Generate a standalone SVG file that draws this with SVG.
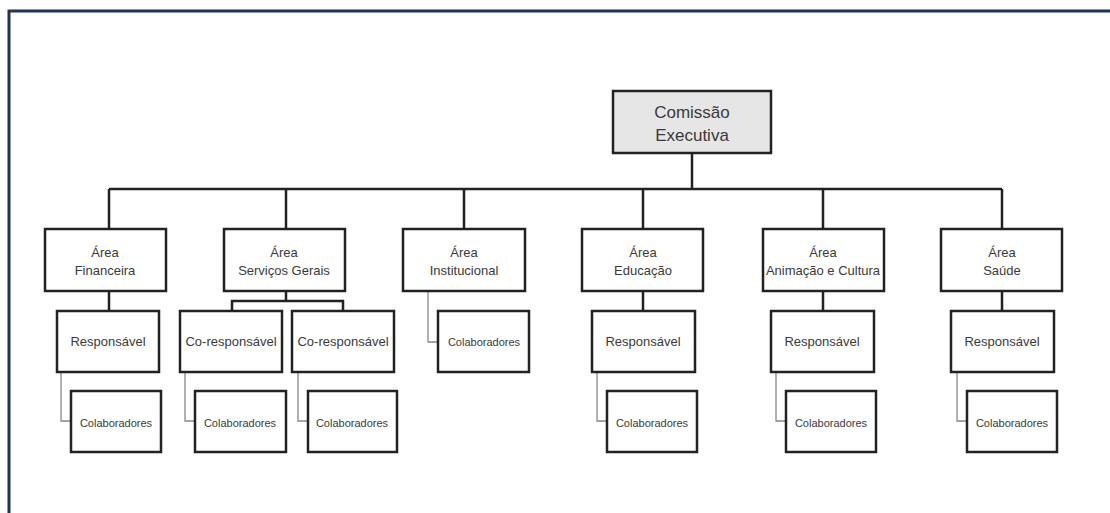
<svg xmlns="http://www.w3.org/2000/svg" width="1110" height="513" viewBox="0 0 1110 513">
<style>
.box{fill:#fff;stroke:#222;stroke-width:2.5}
.top{fill:#e6e6e6;stroke:#222;stroke-width:2.5}
.c{fill:none;stroke:#222;stroke-width:2.5}
.t{fill:none;stroke:#888;stroke-width:1.3}
text{font-family:"Liberation Sans",Arial,sans-serif;fill:#3a3a3a;text-anchor:middle}
.big{font-size:17px}
.m{font-size:13px}
.s{font-size:11px}
</style>
<rect width="1110" height="513" fill="#fff"/>
<path d="M9,513 V11 H1110" fill="none" stroke="#1e3556" stroke-width="3"/>
<g id="connectors">
<path class="c" d="M692,153 V189 M109,189 H1002 M109,189 V229 M286,189 V229 M464,189 V229 M643,189 V229 M823,189 V229 M1002,189 V229"/>
<path class="c" d="M109,291 V311 M286,291 V301 M232,311 V301 H343 V311 M643,291 V311 M823,291 V311 M1002,291 V311"/>
<path class="t" d="M61,372 V421 H71 M185,372 V421 H195 M298,372 V421 H308 M428,291 V342 H438 M597,372 V421 H607 M776,372 V421 H786 M957,372 V421 H967"/>
</g>
<g id="comissao"><rect class="top" x="613" y="91" width="158" height="62"/><text class="big" x="692" y="118">Comissão</text><text class="big" x="692" y="141">Executiva</text></g>
<g id="area-financeira"><rect class="box" x="45" y="229" width="121" height="62"/><text class="m" x="105" y="257">Área</text><text class="m" x="105" y="275">Financeira</text></g>
<g id="area-servicos"><rect class="box" x="224" y="229" width="121" height="62"/><text class="m" x="284" y="257">Área</text><text class="m" x="284" y="275">Serviços Gerais</text></g>
<g id="area-institucional"><rect class="box" x="403" y="229" width="122" height="62"/><text class="m" x="464" y="257">Área</text><text class="m" x="464" y="275">Institucional</text></g>
<g id="area-educacao"><rect class="box" x="582" y="229" width="121" height="62"/><text class="m" x="643" y="257">Área</text><text class="m" x="643" y="275">Educação</text></g>
<g id="area-animacao"><rect class="box" x="763" y="229" width="121" height="62"/><text class="m" x="823" y="257">Área</text><text class="m" x="823" y="275">Animação e Cultura</text></g>
<g id="area-saude"><rect class="box" x="941" y="229" width="121" height="62"/><text class="m" x="1002" y="257">Área</text><text class="m" x="1002" y="275">Saúde</text></g>
<g id="resp-financeira"><rect class="box" x="57" y="311" width="102" height="61"/><text class="m" x="108" y="346">Responsável</text></g>
<g id="coresp-1"><rect class="box" x="180" y="311" width="102" height="61"/><text class="m" x="231" y="346">Co-responsável</text></g>
<g id="coresp-2"><rect class="box" x="292" y="311" width="102" height="61"/><text class="m" x="343" y="346">Co-responsável</text></g>
<g id="colab-institucional"><rect class="box" x="438" y="311" width="91" height="61"/><text class="s" x="484" y="346">Colaboradores</text></g>
<g id="resp-educacao"><rect class="box" x="592" y="311" width="103" height="61"/><text class="m" x="643" y="346">Responsável</text></g>
<g id="resp-animacao"><rect class="box" x="771" y="311" width="103" height="61"/><text class="m" x="822" y="346">Responsável</text></g>
<g id="resp-saude"><rect class="box" x="951" y="311" width="103" height="61"/><text class="m" x="1002" y="346">Responsável</text></g>
<g id="colab-financeira"><rect class="box" x="71" y="391" width="90" height="61"/><text class="s" x="116" y="427">Colaboradores</text></g>
<g id="colab-servicos-1"><rect class="box" x="195" y="391" width="91" height="61"/><text class="s" x="240" y="427">Colaboradores</text></g>
<g id="colab-servicos-2"><rect class="box" x="308" y="391" width="89" height="61"/><text class="s" x="352" y="427">Colaboradores</text></g>
<g id="colab-educacao"><rect class="box" x="607" y="391" width="90" height="61"/><text class="s" x="652" y="427">Colaboradores</text></g>
<g id="colab-animacao"><rect class="box" x="786" y="391" width="90" height="61"/><text class="s" x="831" y="427">Colaboradores</text></g>
<g id="colab-saude"><rect class="box" x="967" y="391" width="90" height="61"/><text class="s" x="1012" y="427">Colaboradores</text></g>
</svg>
